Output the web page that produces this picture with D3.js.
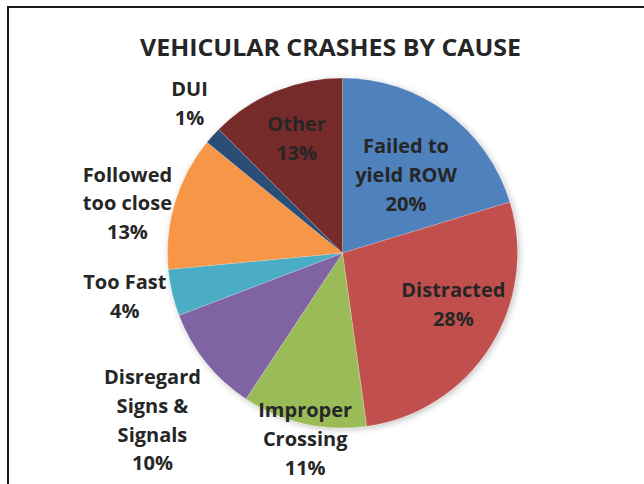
<!DOCTYPE html>
<html>
<head>
<meta charset="utf-8">
<script src="https://cdn.jsdelivr.net/npm/d3@7"></script>
<style>
  html, body { margin: 0; padding: 0; background: #fff; }
  svg { display: block; }
  text { font-family: "Open Sans", "DejaVu Sans", sans-serif; font-weight: 700; fill: #262626; }
</style>
</head>
<body>
<svg id="chart" width="644" height="484"></svg>
<script>
// ---- data ----
const categories = [
  ["Failed to", "yield ROW"],
  ["Distracted"],
  ["Improper", "Crossing"],
  ["Disregard", "Signs &", "Signals"],
  ["Too Fast"],
  ["Followed", "too close"],
  ["DUI"],
  ["Other"]
];
const values = [20.3, 27.5, 11.5, 9.9, 4.3, 12.4, 1.6, 12.5];
const percentLabels = ["20%", "28%", "11%", "10%", "4%", "13%", "1%", "13%"];
const title = "VEHICULAR CRASHES BY CAUSE";

// ---- styles / layout ----
const colors = ["#4F81BD", "#C0504D", "#9BBB59", "#8064A2", "#4BACC6", "#F79646", "#2C4D75", "#772C2A"];
const labelRadiusFactor = [0.57, 0.70, 1.09, 1.45, 1.27, 1.26, 1.22, 0.70];
const labelAngleNudgeDeg = [3, -7.4, -1.5, -2.8, 1.5, -4.2, 2.1, 0.5];

const W = 644, H = 484;
const cx = 342.5, cy = 253, R = 175;
const lineH = 28.8;

const svg = d3.select("#chart");

// shadow filter
const defs = svg.append("defs");
const f = defs.append("filter").attr("id", "shadow")
  .attr("x", "-20%").attr("y", "-20%").attr("width", "140%").attr("height", "140%");
f.append("feDropShadow").attr("dx", 1.5).attr("dy", 1.5).attr("stdDeviation", 3)
  .attr("flood-color", "#000").attr("flood-opacity", 0.25);

// frame
svg.append("rect")
  .attr("x", 8).attr("y", 7).attr("width", W + 20).attr("height", H + 20)
  .attr("fill", "none").attr("stroke", "#1a1a1a").attr("stroke-width", 2);

// title
svg.append("text")
  .attr("x", 330.5).attr("y", 56)
  .attr("text-anchor", "middle")
  .attr("font-size", 24)
  .attr("textLength", 381).attr("lengthAdjust", "spacingAndGlyphs")
  .attr("fill", "#1f1f1f")
  .text(title);

const pie = d3.pie().sort(null).value(d => d);
const arcs = pie(values);
const arc = d3.arc().innerRadius(0).outerRadius(R);

const g = svg.append("g").attr("transform", `translate(${cx},${cy})`);
const sliceG = g.append("g").attr("filter", "url(#shadow)");
sliceG.selectAll("path")
  .data(arcs)
  .enter().append("path")
  .attr("d", arc)
  .attr("fill", (d, i) => colors[i])
  .attr("stroke", "#ffffff")
  .attr("stroke-opacity", 0.35)
  .attr("stroke-width", 0.6);

// labels
arcs.forEach((d, i) => {
  const mid = (d.startAngle + d.endAngle) / 2 + labelAngleNudgeDeg[i] * Math.PI / 180;
  const r = R * labelRadiusFactor[i];
  const x = Math.sin(mid) * r;
  const y = -Math.cos(mid) * r;
  const lines = categories[i].concat([percentLabels[i]]);
  const n = lines.length;
  const firstBase = y + 6 - (n - 1) / 2 * lineH;
  const t = g.append("text")
    .attr("text-anchor", "middle")
    .attr("font-size", 20);
  lines.forEach((ln, j) => {
    t.append("tspan").attr("x", x).attr("y", firstBase + j * lineH).text(ln);
  });
});
</script>
</body>
</html>
